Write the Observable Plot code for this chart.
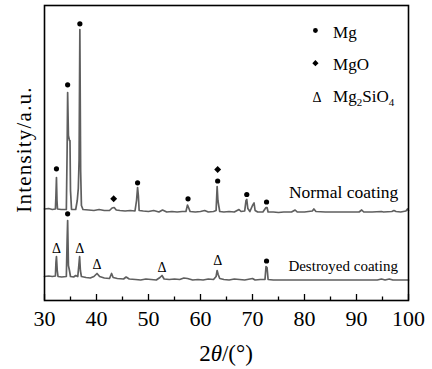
<!DOCTYPE html>
<html>
<head>
<meta charset="utf-8">
<script src="https://cdn.jsdelivr.net/npm/d3@7"></script>
<script src="https://cdn.jsdelivr.net/npm/@observablehq/plot@0.6"></script>
<style>
  html, body { margin: 0; padding: 0; background: #fff; }
  #chart { width: 432px; height: 369px; position: relative; }
</style>
</head>
<body>
<div id="chart"></div>
<script>
// ---- Data (2θ in degrees, intensity in a.u. incl. stacking offset) ----
const normalTheta = [30.0,30.8,31.5,32.1,32.2,32.3,32.4,32.5,33.2,34.2,34.35,34.45,34.6,34.8,34.9,35.0,35.2,36.0,36.3,36.5,36.65,36.8,36.95,37.1,37.4,38.5,39.5,40.5,41.5,42.5,43.0,43.4,43.8,44.5,45.5,46.5,47.4,47.7,47.9,48.05,48.2,49,50,51,52,52.7,53.5,54.5,55.5,56.5,57.2,57.5,57.7,58,59,60,60.8,61.5,62.5,63.0,63.2,63.35,63.5,63.7,64.5,65.5,66.5,67.4,67.8,68.5,68.75,68.9,69.1,69.5,70.0,70.3,70.5,71,72,72.6,72.8,73.0,74,75,76,77.5,78.2,78.6,80,81.5,81.8,82.2,84,86,88,90.5,91,91.4,93,94.8,95.2,96.8,97.2,97.6,98.5,99.5,99.8,100];
const normalIntensity = [91.5,92,91,91.5,105,123,100,91.5,91,91,150,208,165,160,160,110,91,91,100,112,140,271,130,95,91,90.5,90,91,90,90,92.5,93,90.5,90,89.5,90,89.5,100,113,105,90,89.5,89,90,88.5,90.5,88.5,89,88.5,89,89,95.5,93,89,88.5,89,90,88.5,89,90,114,100,95,89,88.5,89,88.5,91,89,89.5,100,101,92,89,95,97.5,90,88.5,88.5,93,93,88.5,88.5,88,88.5,88.5,90.5,88.5,88.5,89.5,91.5,89,88.5,88.5,88.5,88.5,90.5,88.5,88.5,89,88.5,89,90,89,88.5,89.5,91.5,90];

const destroyedTheta = [30,30.8,31.5,32.1,32.2,32.3,32.45,32.6,33.3,34.2,34.35,34.45,34.6,34.8,35.0,35.6,36.0,36.4,36.6,36.75,36.9,37.1,38,38.8,39.5,40.1,40.6,41.5,42.5,42.9,43.2,44,45.2,45.7,46.3,47.5,48.5,49.5,50.5,51.5,52.2,52.6,53,54,55,56,56.8,57.5,58.5,59.5,60.5,61.5,62.5,63.0,63.2,63.4,63.7,64.5,65.5,66.5,67.5,68.5,69.5,70,70.5,71.5,72.4,72.6,72.8,73,74,76,78,80,82,84,86,88,90,92,94,94.8,95.5,96.3,97,100];
const destroyedIntensity = [24,24.5,24,24.5,38,44,30,24,23.5,24,60,80,35,30,24,23.5,25,24,35,44,30,24,23,22.5,24,27,24,22.5,22,27,23,22,21.5,23.5,21.5,21,20.5,21.5,21,20.5,23,25,21.5,21,21.5,21,22.5,22,20.5,21,20.5,21.5,21,24,30,26,22,21,20.5,21.5,21,20.5,21.5,22,20.5,21,21,34,33,21,20.5,20.5,20.5,20.5,20.5,20.5,20.5,20.5,20.5,20.5,20.5,21.5,20.5,21.5,20.5,20.5];

// Phase markers above peaks
const mgTheta = [32.3,34.45,36.8,47.9,57.6,63.3,68.9,72.7,34.45,72.7];
const mgY     = [131.7,215.7,276.7,117.7,101.7,119.5,106,98.5,86.7,39.5];
const mgoTheta = [43.3,63.3];
const mgoY     = [101.7,131];
const silTheta = [32.3,36.8,40.1,52.6,63.3];
const silY     = [51.7,51.7,35.7,33.3,40];

// Curve labels
const curveLabels = ["Normal coating","Destroyed coating"];
const curveLabelX = [77.0,76.9];
const curveLabelY = [102.3,30];

// Legend
const legendNames = ["Mg","MgO","Mg2SiO4"];
const legendSymbolX = 82.1;
const legendTextX = 85.6;
const legendY = [270,237.3,202.5];

// Axis ticks
const majorTicks = [30,40,50,60,70,80,90,100];
const minorTicks = [35,45,55,65,75,85,95];

// ---- Build tables ----
const normal = normalTheta.map((t,i)=>({t, v: normalIntensity[i]}));
const destroyed = destroyedTheta.map((t,i)=>({t, v: destroyedIntensity[i]}));
const mg = mgTheta.map((t,i)=>({t, v: mgY[i]}));
const mgo = mgoTheta.map((t,i)=>({t, v: mgoY[i]}));
const sil = silTheta.map((t,i)=>({t, v: silY[i]}));
const labels = curveLabels.map((s,i)=>({s, t: curveLabelX[i], v: curveLabelY[i]}));

const serif = "Liberation Serif, Times New Roman, Times, serif";
const lineColor = "#5f5f5f";

const plot = Plot.plot({
  width: 432,
  height: 369,
  marginLeft: 44,
  marginRight: 24,
  marginTop: 5,
  marginBottom: 69,
  style: {fontFamily: serif, background: "#fff", color: "#000", overflow: "visible"},
  x: {domain: [30, 100], axis: null},
  y: {domain: [0, 295], axis: null},
  marks: [
    Plot.line(normal, {x: "t", y: "v", stroke: lineColor, strokeWidth: 1.7, strokeLinejoin: "round"}),
    Plot.line(destroyed, {x: "t", y: "v", stroke: lineColor, strokeWidth: 1.7, strokeLinejoin: "round"}),
    Plot.dot(mg, {x: "t", y: "v", r: 2.6, fill: "#000", stroke: "none"}),
    Plot.dot(mgo, {x: "t", y: "v", r: 3.1, symbol: "diamond2", fill: "#000", stroke: "none"}),
    Plot.text(sil, {x: "t", y: "v", text: () => "Δ", fontSize: 14, fontFamily: serif, fill: "#000"}),
    Plot.text(labels.slice(0,1), {x: "t", y: "v", text: "s", fontSize: 17.5, fontFamily: serif, textAnchor: "start", lineAnchor: "bottom", fill: "#000"}),
    Plot.text(labels.slice(1,2), {x: "t", y: "v", text: "s", fontSize: 15, fontFamily: serif, textAnchor: "start", lineAnchor: "bottom", fill: "#000"}),
    // legend symbols
    Plot.dot([{t: legendSymbolX, v: legendY[0]}], {x: "t", y: "v", r: 2.4, fill: "#000", stroke: "none"}),
    Plot.dot([{t: legendSymbolX, v: legendY[1]}], {x: "t", y: "v", r: 2.8, symbol: "diamond2", fill: "#000", stroke: "none"}),
    Plot.text([{t: legendSymbolX + 0.3, v: legendY[2]}], {x: "t", y: "v", text: () => "Δ", fontSize: 14, fontFamily: serif, fill: "#000"}),
    // inward ticks
    Plot.ruleX(majorTicks, {x: d => d, y1: 0, y2: 6, stroke: "#000", strokeWidth: 1.3}),
    Plot.ruleX(minorTicks, {x: d => d, y1: 0, y2: 3.5, stroke: "#000", strokeWidth: 1.3}),
    Plot.axisX(majorTicks, {tickSize: 0, tickPadding: 10, fontSize: 22, fontFamily: serif, label: null, tickFormat: d => String(d)}),
    Plot.frame({stroke: "#000", strokeWidth: 1.6})
  ]
});

document.getElementById("chart").appendChild(plot);

// ---- Legend texts, axis titles (with subscripts / italics) ----
const svg = d3.select(plot);
const sx = plot.scale("x"), sy = plot.scale("y");
const px = v => sx.apply(v), py = v => sy.apply(v);

const legendBase = [8.3, 7.3, 4.3];
legendNames.forEach((name, i) => {
  const t = svg.append("text")
    .attr("x", px(legendTextX)).attr("y", py(legendY[i]) + legendBase[i])
    .attr("text-anchor", "start")
    .attr("font-family", serif).attr("font-size", 17).attr("fill", "#000");
  if (name === "Mg2SiO4") {
    t.append("tspan").text("Mg");
    t.append("tspan").attr("font-size", 11).attr("dy", 4).text("2");
    t.append("tspan").attr("font-size", 17).attr("dy", -4).text("SiO");
    t.append("tspan").attr("font-size", 11).attr("dy", 4).text("4");
  } else {
    t.text(name);
  }
});

// x-axis title: 2θ/(°)
const xt = svg.append("text")
  .attr("x", (px(30) + px(100)) / 2).attr("y", 361)
  .attr("text-anchor", "middle")
  .attr("font-family", serif).attr("font-size", 23).attr("fill", "#000");
xt.append("tspan").text("2");
xt.append("tspan").attr("font-style", "italic").text("θ");
xt.append("tspan").text("/(°)");

// y-axis title
svg.append("text")
  .attr("transform", `translate(30.5,${(py(295) + py(0)) / 2 - 3}) rotate(-90)`)
  .attr("text-anchor", "middle")
  .attr("font-family", serif).attr("font-size", 21).attr("letter-spacing", "1.2px").attr("fill", "#000")
  .text("Intensity/a.u.");
</script>
</body>
</html>
